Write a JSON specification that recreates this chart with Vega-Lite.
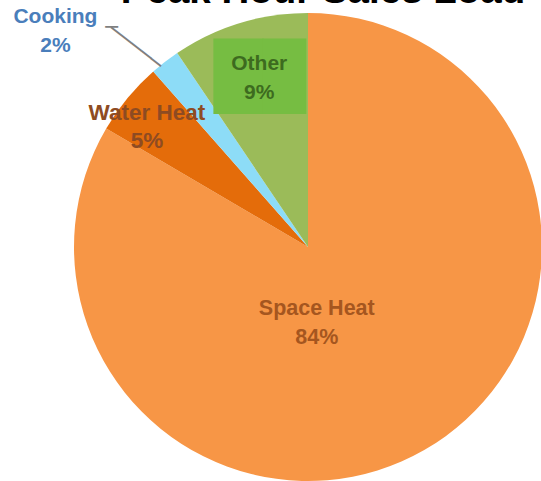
{
  "$schema": "https://vega.github.io/schema/vega-lite/v6.json",
  "width": 616,
  "height": 494,
  "padding": 0,
  "autosize": "none",
  "background": "white",
  "layer": [
    {
      "data": {
        "values": [
          {"category": "Space Heat", "value": 83.45, "order": 1, "label": "Space Heat\n84%"},
          {"category": "Water Heat", "value": 5.05, "order": 2, "label": "Water Heat\n5%"},
          {"category": "Cooking", "value": 2.06, "order": 3, "label": "Cooking\n2%"},
          {"category": "Other", "value": 9.44, "order": 4, "label": "Other\n9%"}
        ]
      },
      "encoding": {
        "theta": {"field": "value", "type": "quantitative", "stack": true},
        "order": {"field": "order", "type": "quantitative", "sort": "ascending"}
      },
      "layer": [
        {
          "mark": {"type": "arc", "radius": 234},
          "encoding": {
            "color": {
              "field": "category",
              "type": "nominal",
              "scale": {
                "domain": ["Space Heat", "Water Heat", "Cooking", "Other"],
                "range": ["#F79646", "#E46C0A", "#8DDCF7", "#9BBB59"]
              },
              "legend": null
            }
          }
        },
        {
          "mark": {"type": "text", "radius": 177, "font": "DejaVu Sans", "fontSize": 63.6, "align": "left", "baseline": "middle", "dx": -42, "dy": 1.5, "color": "#76BD42"},
          "encoding": {
            "text": {"condition": {"test": "datum.category === 'Other'", "value": "█▉"}, "value": ""}
          }
        },
        {
          "mark": {"type": "text", "radius": 80, "dx": -31, "dy": -7, "font": "Liberation Sans", "fontSize": 21.5, "fontWeight": "bold", "lineBreak": "\n", "lineHeight": 29, "align": "center", "baseline": "middle", "color": "#A5561F"},
          "encoding": {
            "text": {"condition": {"test": "datum.category === 'Space Heat'", "field": "label"}, "value": ""}
          }
        },
        {
          "mark": {"type": "text", "radius": 201, "dx": -6, "dy": -6, "font": "Liberation Sans", "fontSize": 22.5, "fontWeight": "bold", "lineBreak": "\n", "lineHeight": 28, "align": "center", "baseline": "middle", "color": "#8E4B22"},
          "encoding": {
            "text": {"condition": {"test": "datum.category === 'Water Heat'", "field": "label"}, "value": ""}
          }
        },
        {
          "mark": {"type": "text", "radius": 333, "dx": -49, "dy": 34, "font": "Liberation Sans", "fontSize": 21, "fontWeight": "bold", "lineBreak": "\n", "lineHeight": 29, "align": "center", "baseline": "middle", "color": "#4A7EBB"},
          "encoding": {
            "text": {"condition": {"test": "datum.category === 'Cooking'", "field": "label"}, "value": ""}
          }
        },
        {
          "mark": {"type": "text", "radius": 177, "dx": 3, "dy": -14, "font": "Liberation Sans", "fontSize": 21, "fontWeight": "bold", "lineBreak": "\n", "lineHeight": 29, "align": "center", "baseline": "middle", "color": "#3D6B1F"},
          "encoding": {
            "text": {"condition": {"test": "datum.category === 'Other'", "field": "label"}, "value": ""}
          }
        },
        {
          "mark": {"type": "text", "radius": 266, "dx": -1, "dy": 15, "angle": 38, "font": "DejaVu Sans", "fontSize": 21, "align": "center", "baseline": "middle", "color": "#7F7F7F"},
          "encoding": {
            "text": {"condition": {"test": "datum.category === 'Cooking'", "value": "─────"}, "value": ""}
          }
        },
        {
          "mark": {"type": "text", "radius": 300, "dx": -13, "dy": 18.5, "font": "DejaVu Sans", "fontSize": 21, "align": "center", "baseline": "middle", "color": "#7F7F7F"},
          "encoding": {
            "text": {"condition": {"test": "datum.category === 'Cooking'", "value": "─"}, "value": ""}
          }
        }
      ]
    },
    {
      "data": {"values": [{"title": "Peak Hour Sales Load"}]},
      "mark": {"type": "text", "dx": 15, "dy": -244, "align": "center", "baseline": "alphabetic", "font": "Liberation Sans", "fontSize": 38.5, "fontWeight": "bold", "color": "#000000"},
      "encoding": {
        "text": {"field": "title", "type": "nominal"}
      }
    }
  ]
}
